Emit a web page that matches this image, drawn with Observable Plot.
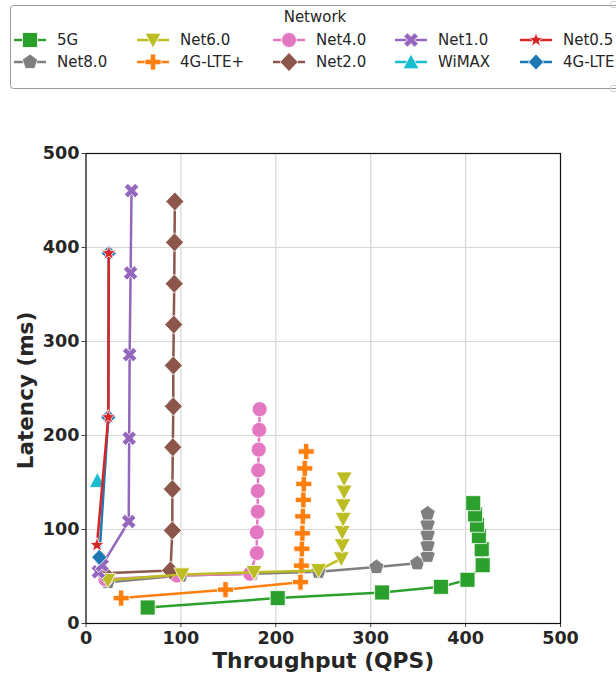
<!DOCTYPE html>
<html><head><meta charset="utf-8">
<script src="https://cdn.jsdelivr.net/npm/d3@7"></script>
<script src="https://cdn.jsdelivr.net/npm/@observablehq/plot@0.6"></script>
<style>
body{margin:0;background:#fff}
#wrap{width:616px;height:677px;overflow:hidden;position:relative;font-family:"DejaVu Sans",sans-serif;background:#fff}
svg{display:block}
</style>
</head><body><div id="wrap"></div>
<script>
// ---- data ----
const legendOrder = ["5G","Net8.0","Net6.0","4G-LTE+","Net4.0","Net2.0","Net1.0","WiMAX","Net0.5","4G-LTE"];
const drawOrder   = ["5G","Net8.0","Net4.0","Net2.0","4G-LTE+","Net6.0","Net1.0","WiMAX","4G-LTE","Net0.5"];
const xTicks = [0,100,200,300,400,500];
const yTicks = [0,100,200,300,400,500];

const qps5G   = [65,202,312,374,402,418,417,414,412,410,408];
const lat5G   = [17,27,33,39,46.5,62,79,93,105,116,128];
const qps80   = [23,100,175,245,306,349,360,360,360,360,360];
const lat80   = [44,51,53,55,60,64,72,83.5,95,106,117];
const qps60   = [23,101,177,245,269,270,270,271,271,272,272];
const lat60   = [46,52,54.5,56.5,69,83,97,111,125.5,140,154];
const qpsLTEp = [37,147,226,227,227.5,228,228.5,229,229.5,230.5,232];
const latLTEp = [27,36,44,61.5,79.5,96,114,131.5,148.5,165,183];
const qps40   = [20.5,96,173,180,180,181,181,181.5,182,182.5,183];
const lat40   = [47,51,53,75,97,119,141,163,185,206,228];
const qps20   = [19,89,91,91,91.5,92,92,92.5,93,93.3,93.6];
const lat20   = [53.5,56.5,99,143,187.5,231,274.5,318,361.5,405.5,449];
const qps10   = [13,17,45,45.5,46,47,48];
const lat10   = [55,62,108.5,197,286,373,460.5];
const qpsWiMAX = [12];
const latWiMAX = [152];
const qps05   = [11.5,23.5,24];
const lat05   = [83.5,219.5,394];
const qpsLTE  = [14,23.5,24];
const latLTE  = [70.5,219.5,394];

const colors = {"5G":"#2ca02c","Net8.0":"#7f7f7f","Net6.0":"#bcbd22","4G-LTE+":"#ff7f0e","Net4.0":"#e377c2",
  "Net2.0":"#8c564b","Net1.0":"#9467bd","WiMAX":"#17becf","Net0.5":"#d62728","4G-LTE":"#1f77b4"};

// ---- custom symbols (matplotlib-like) ----
const R = s => Math.sqrt(s/Math.PI);
function poly(ctx, pts){ ctx.moveTo(pts[0][0],pts[0][1]); for(let i=1;i<pts.length;i++) ctx.lineTo(pts[i][0],pts[i][1]); ctx.closePath(); }
const symSquare = {draw(c,s){const r=R(s); c.rect(-r,-r,2*r,2*r);}};
const symCircle = {draw(c,s){const r=R(s); c.moveTo(r,0); c.arc(0,0,r,0,2*Math.PI);}};
const symTriDown = {draw(c,s){const r=R(s); poly(c,[[-r,-r*0.85],[r,-r*0.85],[0,r*1.0]]);}};
const symTriUp = {draw(c,s){const r=R(s); poly(c,[[0,-r],[r,r*0.85],[-r,r*0.85]]);}};
const symDiamond = {draw(c,s){const r=R(s); poly(c,[[0,-r],[r*0.95,0],[0,r],[-r*0.95,0]]);}};
const symPlus = {draw(c,s){const r=R(s), t=r/3; poly(c,[[-t,-r],[t,-r],[t,-t],[r,-t],[r,t],[t,t],[t,r],[-t,r],[-t,t],[-r,t],[-r,-t],[-t,-t]]);}};
const symX = {draw(c,s){const r=R(s), h=r/2; poly(c,[[-h,-r],[0,-h],[h,-r],[r,-h],[h,0],[r,h],[h,r],[0,h],[-h,r],[-r,h],[-h,0],[-r,-h]]);}};
const symPent = {draw(c,s){const r=R(s); const p=[]; for(let i=0;i<5;i++){const a=-Math.PI/2+i*2*Math.PI/5; p.push([r*Math.cos(a),r*Math.sin(a)]);} poly(c,p);}};
const symStar = {draw(c,s){const r=R(s), ri=r*0.42; const p=[]; for(let i=0;i<10;i++){const a=-Math.PI/2+i*Math.PI/5, rr=i%2?ri:r; p.push([rr*Math.cos(a),rr*Math.sin(a)]);} poly(c,p);}};

const series = {
  "5G":      {x:qps5G,  y:lat5G,  sym:symSquare, r:7.5},
  "Net8.0":  {x:qps80,  y:lat80,  sym:symPent,   r:8},
  "Net6.0":  {x:qps60,  y:lat60,  sym:symTriDown,r:8},
  "4G-LTE+": {x:qpsLTEp,y:latLTEp,sym:symPlus,   r:8},
  "Net4.0":  {x:qps40,  y:lat40,  sym:symCircle, r:7.5},
  "Net2.0":  {x:qps20,  y:lat20,  sym:symDiamond,r:9.5},
  "Net1.0":  {x:qps10,  y:lat10,  sym:symX,      r:7.2},
  "WiMAX":   {x:qpsWiMAX,y:latWiMAX,sym:symTriUp,r:8},
  "Net0.5":  {x:qps05,  y:lat05,  sym:symStar,   r:7.5},
  "4G-LTE":  {x:qpsLTE, y:latLTE, sym:symDiamond,r:8}
};
const rows = name => series[name].x.map((v,i)=>({qps:v, lat:series[name].y[i], net:name}));

// ---- legend ----
const wrap = d3.select("#wrap");
const leg = wrap.append("svg").attr("width",616).attr("height",100);
leg.append("rect").attr("x",10.5).attr("y",5.5).attr("width",640).attr("height",83).attr("rx",3)
  .attr("fill","#fff").attr("stroke","#999").attr("stroke-width",1);
leg.append("rect").attr("x",610.5).attr("y",1.5).attr("width",10).attr("height",6).attr("rx",2).attr("fill","none").attr("stroke","#ccc");
leg.append("rect").attr("x",610.5).attr("y",85.5).attr("width",10).attr("height",6).attr("rx",2).attr("fill","none").attr("stroke","#ccc");
leg.append("text").attr("x",315).attr("y",17).attr("dy","0.35em").attr("text-anchor","middle")
  .attr("font-size",15).attr("fill","#262626").text("Network");
const colX = [14,137,273,395,520], rowY = [40,62];
legendOrder.forEach((name,i)=>{
  const cx = colX[Math.floor(i/2)], cy = rowY[i%2], s = series[name];
  const g = leg.append("g");
  g.append("line").attr("x1",cx).attr("x2",cx+32).attr("y1",cy).attr("y2",cy)
    .attr("stroke",colors[name]).attr("stroke-width",2.5);
  const p = d3.path(); s.sym.draw(p, s.r*s.r*Math.PI);
  g.append("path").attr("d",p.toString()).attr("transform",`translate(${cx+16},${cy})`)
    .attr("fill",colors[name]).attr("stroke","#fff").attr("stroke-width",0.8);
  g.append("text").attr("x",cx+43).attr("y",cy).attr("dy","0.35em").attr("font-size",15)
    .attr("fill","#262626").text(name);
});

// ---- chart ----
const marks = [
  Plot.gridX(xTicks,{stroke:"#d6d6d6",strokeOpacity:1,strokeWidth:1.2}),
  Plot.gridY(yTicks,{stroke:"#d6d6d6",strokeOpacity:1,strokeWidth:1.2}),
  Plot.axisX(xTicks,{tickSize:4,tickPadding:4,fontSize:17.6,fontWeight:"bold",label:null,stroke:"#444"}),
  Plot.axisY(yTicks,{tickSize:4,tickPadding:2.5,fontSize:17.6,fontWeight:"bold",label:null,stroke:"#444"}),
  Plot.text(["Throughput (QPS)"],{frameAnchor:"bottom",lineAnchor:"middle",textAnchor:"middle",dy:38,fontSize:21.8,fontWeight:"bold",fill:"#262626"}),
  Plot.text(["Latency (ms)"],{frameAnchor:"left",lineAnchor:"middle",textAnchor:"middle",rotate:-90,dx:-59.5,dy:2,fontSize:21.5,fontWeight:"bold",fill:"#262626"})
];
drawOrder.forEach(name=>{
  const d = rows(name), s = series[name];
  if (d.length>1) marks.push(Plot.line(d,{x:"qps",y:"lat",stroke:colors[name],strokeWidth:2.5}));
  marks.push(Plot.dot(d,{x:"qps",y:"lat",symbol:s.sym,r:s.r,fill:colors[name],stroke:"#fff",strokeWidth:0.8}));
});
marks.push(Plot.frame({stroke:"#111",strokeWidth:1.2}));

const chart = Plot.plot({
  width:616, height:577,
  marginLeft:85.5, marginRight:56, marginTop:53, marginBottom:54,
  x:{domain:[0,500]}, y:{domain:[0,500]},
  style:{fontFamily:"DejaVu Sans",color:"#262626",background:"#fff",overflow:"visible"},
  marks
});
wrap.node().appendChild(chart);
</script>
</body></html>
